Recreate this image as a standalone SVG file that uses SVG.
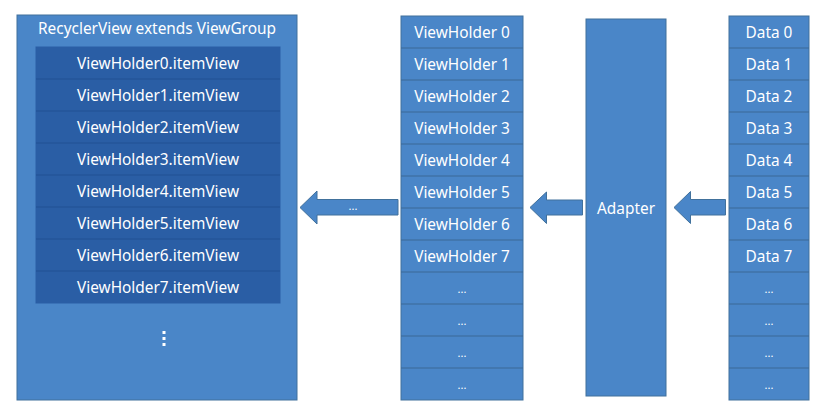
<svg xmlns="http://www.w3.org/2000/svg" width="830" height="417" viewBox="0 0 830 417">
<style>
.box{fill:#4a86c8;stroke:#41719c;stroke-width:1}
.inner{fill:#2a5ea5;stroke:#2a5ea5}
.sep{stroke:#3b6896;stroke-width:1.2}
.isep{stroke:#1f4f8f;stroke-width:0.8}
text{font-family:"Noto Sans","Open Sans",sans-serif;font-size:15.4px;fill:#ffffff;text-anchor:middle}
.dots{font-size:11px}
.arrow{fill:#4a86c8;stroke:#41719c;stroke-width:1}
</style>
<rect width="830" height="417" fill="#ffffff"/>
<g id="recyclerview">
<rect class="box" x="17" y="15" width="280" height="385"/>
<text x="157" y="33.5">RecyclerView extends ViewGroup</text>
<rect class="inner" x="36" y="47" width="244" height="256"/>
<line class="isep" x1="36" y1="79" x2="280" y2="79"/>
<line class="isep" x1="36" y1="111" x2="280" y2="111"/>
<line class="isep" x1="36" y1="143" x2="280" y2="143"/>
<line class="isep" x1="36" y1="175" x2="280" y2="175"/>
<line class="isep" x1="36" y1="207" x2="280" y2="207"/>
<line class="isep" x1="36" y1="239" x2="280" y2="239"/>
<line class="isep" x1="36" y1="271" x2="280" y2="271"/>
<text x="158" y="68.5">ViewHolder0.itemView</text>
<text x="158" y="100.5">ViewHolder1.itemView</text>
<text x="158" y="132.5">ViewHolder2.itemView</text>
<text x="158" y="164.5">ViewHolder3.itemView</text>
<text x="158" y="196.5">ViewHolder4.itemView</text>
<text x="158" y="228.5">ViewHolder5.itemView</text>
<text x="158" y="260.5">ViewHolder6.itemView</text>
<text x="158" y="292.5">ViewHolder7.itemView</text>
<rect x="162.5" y="331" width="3" height="3" fill="#ffffff"/>
<rect x="162.5" y="337" width="3" height="3" fill="#ffffff"/>
<rect x="162.5" y="343" width="3" height="3" fill="#ffffff"/>
</g>
<g id="viewholders">
<rect class="box" x="401" y="16" width="122" height="384"/>
<line class="sep" x1="401" y1="48" x2="523" y2="48"/>
<line class="sep" x1="401" y1="80" x2="523" y2="80"/>
<line class="sep" x1="401" y1="112" x2="523" y2="112"/>
<line class="sep" x1="401" y1="144" x2="523" y2="144"/>
<line class="sep" x1="401" y1="176" x2="523" y2="176"/>
<line class="sep" x1="401" y1="208" x2="523" y2="208"/>
<line class="sep" x1="401" y1="240" x2="523" y2="240"/>
<line class="sep" x1="401" y1="272" x2="523" y2="272"/>
<line class="sep" x1="401" y1="304" x2="523" y2="304"/>
<line class="sep" x1="401" y1="336" x2="523" y2="336"/>
<line class="sep" x1="401" y1="368" x2="523" y2="368"/>
<text x="462" y="37.5">ViewHolder 0</text>
<text x="462" y="69.5">ViewHolder 1</text>
<text x="462" y="101.5">ViewHolder 2</text>
<text x="462" y="133.5">ViewHolder 3</text>
<text x="462" y="165.5">ViewHolder 4</text>
<text x="462" y="197.5">ViewHolder 5</text>
<text x="462" y="229.5">ViewHolder 6</text>
<text x="462" y="261.5">ViewHolder 7</text>
<text class="dots" x="462" y="293">...</text>
<text class="dots" x="462" y="325">...</text>
<text class="dots" x="462" y="357">...</text>
<text class="dots" x="462" y="389">...</text>
</g>
<g id="adapter">
<rect class="box" x="586" y="19" width="80" height="377"/>
<text x="626" y="213.5">Adapter</text>
</g>
<g id="data">
<rect class="box" x="729" y="16" width="80" height="384"/>
<line class="sep" x1="729" y1="48" x2="809" y2="48"/>
<line class="sep" x1="729" y1="80" x2="809" y2="80"/>
<line class="sep" x1="729" y1="112" x2="809" y2="112"/>
<line class="sep" x1="729" y1="144" x2="809" y2="144"/>
<line class="sep" x1="729" y1="176" x2="809" y2="176"/>
<line class="sep" x1="729" y1="208" x2="809" y2="208"/>
<line class="sep" x1="729" y1="240" x2="809" y2="240"/>
<line class="sep" x1="729" y1="272" x2="809" y2="272"/>
<line class="sep" x1="729" y1="304" x2="809" y2="304"/>
<line class="sep" x1="729" y1="336" x2="809" y2="336"/>
<line class="sep" x1="729" y1="368" x2="809" y2="368"/>
<text x="769" y="37.5">Data 0</text>
<text x="769" y="69.5">Data 1</text>
<text x="769" y="101.5">Data 2</text>
<text x="769" y="133.5">Data 3</text>
<text x="769" y="165.5">Data 4</text>
<text x="769" y="197.5">Data 5</text>
<text x="769" y="229.5">Data 6</text>
<text x="769" y="261.5">Data 7</text>
<text class="dots" x="769" y="293">...</text>
<text class="dots" x="769" y="325">...</text>
<text class="dots" x="769" y="357">...</text>
<text class="dots" x="769" y="389">...</text>
</g>
<g id="connectors">
<polygon class="arrow" points="300,207.5 317,191 317,199.5 398,199.5 398,215 317,215 317,224"/>
<text class="dots" x="353" y="210">...</text>
<polygon class="arrow" points="530,207.5 546.5,192 546.5,200 582.5,200 582.5,215 546.5,215 546.5,223.5"/>
<polygon class="arrow" points="674,207.5 690.5,191.5 690.5,199.5 725.5,199.5 725.5,215 690.5,215 690.5,223.5"/>
</g>
</svg>
